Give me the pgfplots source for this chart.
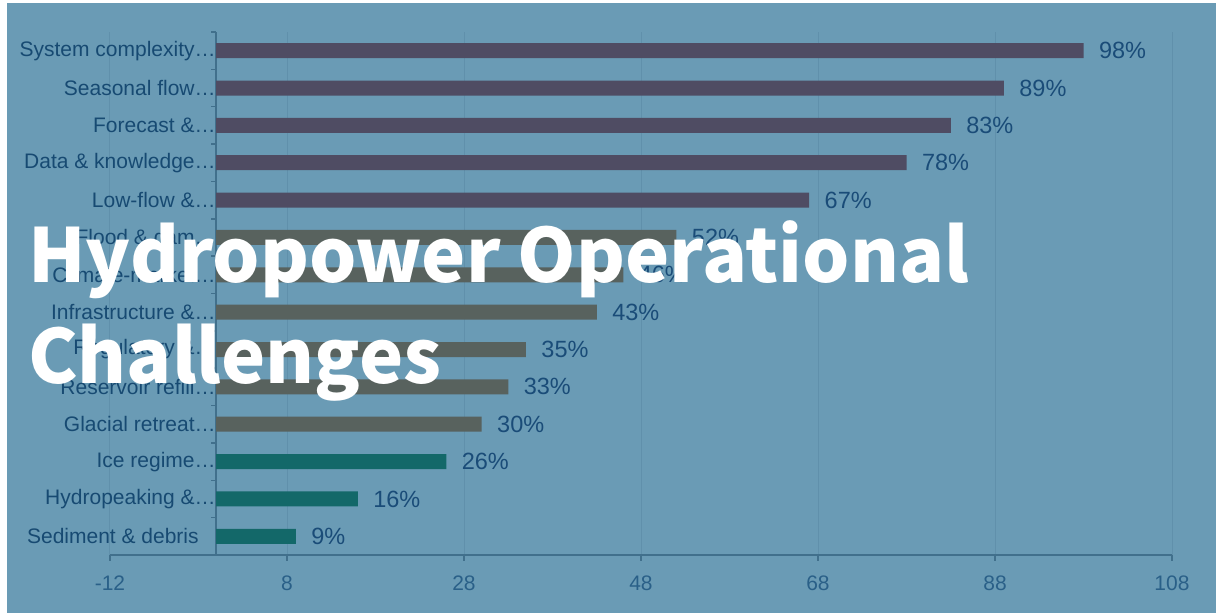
\documentclass[border=0pt]{standalone}
\usepackage{pgfplots}
\pgfplotsset{compat=1.18}
\usepackage{fontspec}
\setmainfont{Liberation Sans}
\newfontfamily\titlefont{Noto Sans CJK SC}
\definecolor{bgblue}{HTML}{6A9BB5}
\definecolor{gridc}{HTML}{6090AB}
\definecolor{axisc}{HTML}{41708C}
\definecolor{barA}{HTML}{4F4C63}
\definecolor{barB}{HTML}{58625E}
\definecolor{barC}{HTML}{136869}
\definecolor{catc}{HTML}{174A72}
\definecolor{tickc}{HTML}{2A6088}
\definecolor{valc}{HTML}{1A4C78}
\begin{document}
\begin{tikzpicture}[x=1pt,y=1pt]
\fill[white] (0,0) rectangle (1216,613);
\fill[bgblue] (7,0) rectangle (1216,610);
\begin{axis}[
  at={(110pt,58pt)}, anchor=south west,
  scale only axis, width=1062pt, height=523pt,
  xmin=-12, xmax=108, ymin=-0.5, ymax=13.5,
  axis x line=bottom, axis y line=middle,
  axis line style={-, draw=axisc, line width=1.5pt},
  xtick={-12,8,28,48,68,88,108},
  ytick={0,...,13},
  minor ytick={-0.5,0.5,...,13.5},
  yticklabels={Sediment \& debris\rule{17pt}{0pt}, Hydropeaking \&…, Ice regime…, Glacial retreat…, Reservoir refill…, Regulatory \&…, Infrastructure \&…, Climate-market…, Flood \& dam…, Low-flow \&…, Data \& knowledge…, Forecast \&…, Seasonal flow…, System complexity…},
  tick align=outside,
  major tick length=6pt, minor tick length=5pt,
  every tick/.style={draw=axisc, line width=1.5pt},
  major y tick style={draw=none},
  xmajorgrids, grid style={draw=gridc, line width=1pt},
  /pgf/number format/assume math mode=true,
  xticklabel style={font=\fontsize{21}{21}\selectfont, text=tickc, yshift=-11pt},
  yticklabel style={font=\fontsize{21}{21}\selectfont, text=catc, xshift=9pt},
  xbar, bar width=15pt, bar shift=0pt,
  nodes near coords={\pgfmathprintnumber{\pgfplotspointmeta}\%},
  nodes near coords style={font=\fontsize{23.5}{23.5}\selectfont, text=valc, anchor=west, xshift=12pt},
  clip=false,
]
\addplot[fill=barA, draw=none] coordinates {(67,9) (78,10) (83,11) (89,12) (98,13)};
\addplot[fill=barB, draw=none] coordinates {(30,3) (33,4) (35,5) (43,6) (46,7) (52,8)};
\addplot[fill=barC, draw=none] coordinates {(9,0) (16,1) (26,2)};
\end{axis}
\node[anchor=base west, inner sep=0pt, text=white, font=\titlefont\bfseries\fontsize{74.5}{74.5}\selectfont] at (28,330) {Hydropower Operational};
\node[anchor=base west, inner sep=0pt, text=white, font=\titlefont\bfseries\fontsize{74.5}{74.5}\selectfont] at (28,229) {Challenges};
\end{tikzpicture}
\end{document}
